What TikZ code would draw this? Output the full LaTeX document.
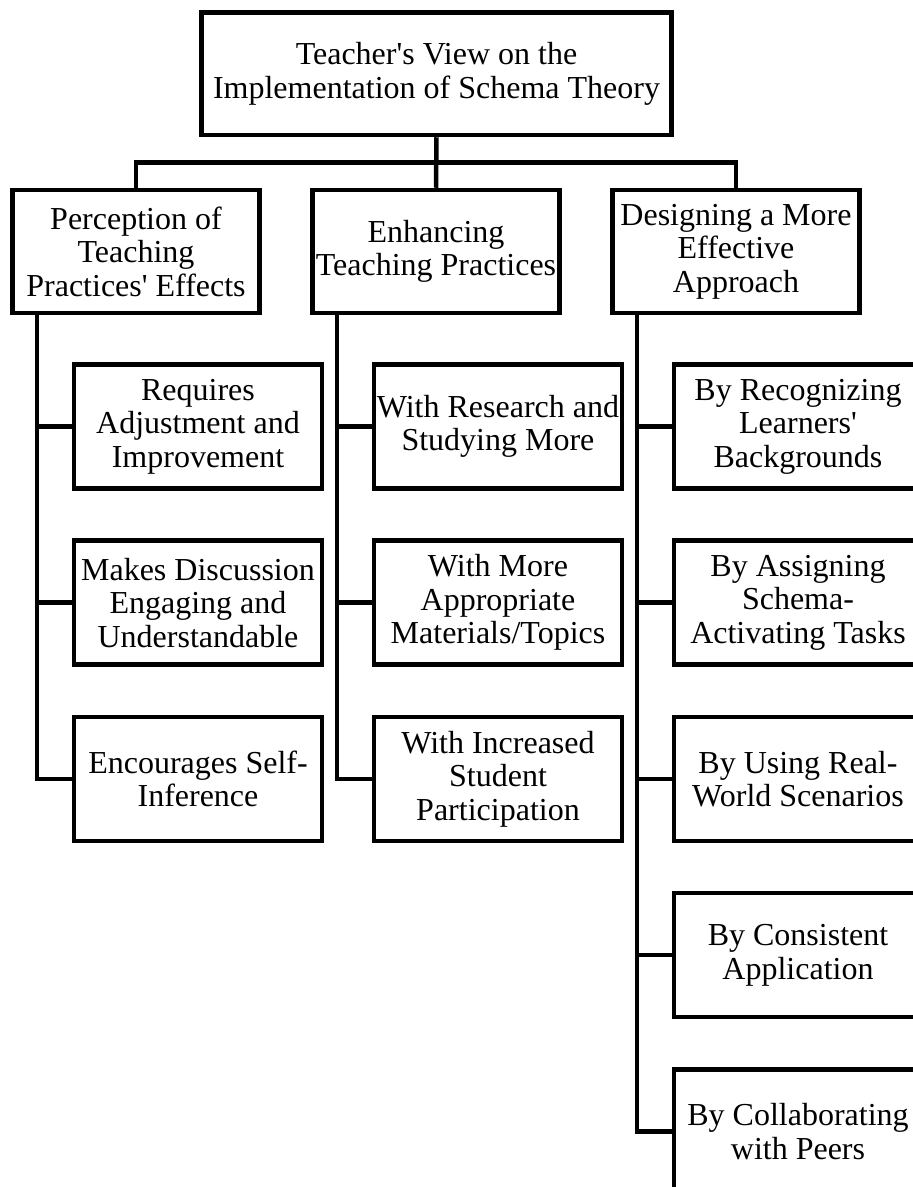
\documentclass[tikz,border=0pt]{standalone}
\usepackage{fontspec}
\usetikzlibrary{calc}
\newfontfamily\tnr{Liberation Serif}
\begin{document}
\begin{tikzpicture}[x=1pt,y=-1pt,
  every node/.style={font=\tnr\fontsize{32}{33.5}\selectfont, align=center, inner sep=0pt},
  rootbox/.style={draw, line width=4.5pt, minimum width=470pt, minimum height=122.5pt},
  topbox/.style={draw, line width=4.5pt, minimum width=247pt, minimum height=123pt},
  subbox/.style={draw, line width=4.5pt, minimum width=248pt, minimum height=124pt},
  link/.style={line width=4.5pt}]
\clip (0,0) rectangle (913,1187);
\useasboundingbox (0,0) rectangle (913,1187);
\fill[white] (0,0) rectangle (913,1187);

\node[rootbox] (root) at (436.5,73.75) {Teacher's View on the\\Implementation of Schema Theory};

\node[topbox] (pa) at (136,251.5) {Perception of\\Teaching\\Practices' Effects};
\node[topbox] (pb) at (436,251.5) {Enhancing\\Teaching Practices};
\node[topbox] (pc) at (736,251.5) {Designing a More\\Effective\\Approach};

\node[subbox] (a1) at (198,426.5) {Requires\\Adjustment and\\Improvement};
\node[subbox] (a2) at (198,602.7) {Makes Discussion\\Engaging and\\Understandable};
\node[subbox] (a3) at (198,778.9) {Encourages Self-\\Inference};

\node[subbox] (b1) at (498,426.5) {With Research and\\Studying More};
\node[subbox] (b2) at (498,602.7) {With More\\Appropriate\\Materials/Topics};
\node[subbox] (b3) at (498,778.9) {With Increased\\Student\\Participation};

\node[subbox] (c1) at (798,426.5) {By Recognizing\\Learners'\\Backgrounds};
\node[subbox] (c2) at (798,602.7) {By Assigning\\Schema-\\Activating Tasks};
\node[subbox] (c3) at (798,778.9) {By Using Real-\\World Scenarios};
\node[subbox] (c4) at (798,955.1) {By Consistent\\Application};
\node[subbox] (c5) at (798,1131.3) {By Collaborating\\with Peers};

% top level connectors
\coordinate (bus) at (436,162.5);
\draw[link] (root.south) -- (pb.north);
\draw[link] (pa.north) |- (bus) -| (pc.north);

% stems
\coordinate (sa) at ($(pa.south)+(-99,0)$);
\coordinate (sb) at ($(pb.south)+(-99,0)$);
\coordinate (sc) at ($(pc.south)+(-99,0)$);
\draw[link] (sa) |- (a3.west);
\draw[link] (a1.west) -- (a1.west -| sa);
\draw[link] (a2.west) -- (a2.west -| sa);
\draw[link] (sb) |- (b3.west);
\draw[link] (b1.west) -- (b1.west -| sb);
\draw[link] (b2.west) -- (b2.west -| sb);
\draw[link] (sc) |- (c5.west);
\draw[link] (c1.west) -- (c1.west -| sc);
\draw[link] (c2.west) -- (c2.west -| sc);
\draw[link] (c3.west) -- (c3.west -| sc);
\draw[link] (c4.west) -- (c4.west -| sc);
\end{tikzpicture}
\end{document}
